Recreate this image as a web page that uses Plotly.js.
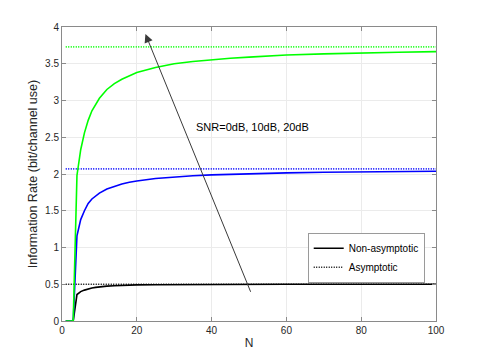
<!DOCTYPE html>
<html>
<head>
<meta charset="utf-8">
<script src="https://cdn.plot.ly/plotly-3.0.1.min.js"></script>
<style>
  html, body { margin: 0; padding: 0; background: #fff; }
  #myDiv { width: 482px; height: 361px; }
</style>
</head>
<body>
<div id="myDiv"></div>
<script>
// block length N
const nVals = [1, 2, 3, 4, 5, 6, 7, 8, 9, 10, 12, 14, 16, 18, 20, 25, 30, 35, 40, 45, 50, 60, 70, 80, 90, 100];

// non-asymptotic information rate
const rate0dB = [0, 0, 0, 0.36, 0.40, 0.42, 0.437, 0.449, 0.458, 0.465, 0.474, 0.48, 0.485, 0.488, 0.491, 0.494, 0.496, 0.497, 0.498, 0.498, 0.499, 0.499, 0.5, 0.5, 0.5, 0.5];
const rate10dB = [0, 0, 0, 1.16, 1.38, 1.50, 1.60, 1.66, 1.70, 1.74, 1.795, 1.835, 1.865, 1.887, 1.905, 1.938, 1.96, 1.976, 1.988, 1.997, 2.004, 2.015, 2.023, 2.029, 2.033, 2.037];
const rate20dB = [0, 0, 0, 1.98, 2.33, 2.56, 2.73, 2.86, 2.95, 3.03, 3.15, 3.23, 3.29, 3.34, 3.38, 3.45, 3.50, 3.53, 3.555, 3.575, 3.59, 3.62, 3.635, 3.65, 3.657, 3.665];

// asymptotic limits
const asym0dB = 0.5;
const asym10dB = 2.07;
const asym20dB = 3.73;

const xTicks = [0, 20, 40, 60, 80, 100];
const yTicks = [0, 0.5, 1, 1.5, 2, 2.5, 3, 3.5, 4];

const textColor = '#262626';
const axisColor = '#8a8a8a';
const dotted = '1px,1.5px';

const solid = (y, color, name, show) => ({
  x: nVals,
  y: y,
  mode: 'lines',
  type: 'scatter',
  line: { color: color, width: 1.6 },
  name: name,
  showlegend: show,
});

const asym = (v, color, name, show) => ({
  x: [nVals[0], nVals.at(-1)],
  y: [v, v],
  mode: 'lines',
  type: 'scatter',
  line: { color: color, width: 1.6, dash: dotted },
  name: name,
  showlegend: show,
});

const data = [
  solid(rate0dB, '#000000', 'Non-asymptotic', true),
  asym(asym0dB, '#000000', 'Asymptotic', true),
  solid(rate10dB, '#0000ff', '', false),
  asym(asym10dB, '#0000ff', '', false),
  solid(rate20dB, '#00ff00', '', false),
  asym(asym20dB, '#00ff00', '', false),
];

const axisBase = {
  showline: true,
  linecolor: axisColor,
  linewidth: 1,
  mirror: 'ticks',
  ticks: 'inside',
  ticklen: 4,
  tickcolor: axisColor,
  showgrid: true,
  gridcolor: '#ebebeb',
  gridwidth: 1,
  zeroline: false,
  fixedrange: true,
  tickfont: { size: 10, color: textColor },
};

const layout = {
  width: 482,
  height: 361,
  margin: { l: 62, r: 46, t: 27, b: 40 },
  paper_bgcolor: '#ffffff',
  plot_bgcolor: '#ffffff',
  font: { family: 'Liberation Sans, Arial, sans-serif', color: textColor },
  xaxis: {
    ...axisBase,
    range: [0, 100],
    tickvals: xTicks,
    ticktext: xTicks.map(String),
    title: { text: 'N', font: { size: 12, color: textColor }, standoff: 3 },
  },
  yaxis: {
    ...axisBase,
    range: [0, 4],
    tickvals: yTicks,
    ticktext: yTicks.map(String),
    title: { text: 'Information Rate (bit/channel use)', font: { size: 12.5, color: textColor }, standoff: 4 },
  },
  legend: {
    x: 0.657,
    y: 0.215,
    xanchor: 'left',
    yanchor: 'middle',
    bgcolor: '#ffffff',
    bordercolor: '#9a9a9a',
    borderwidth: 1,
    font: { size: 10, color: '#000000' },
    tracegroupgap: 0,
    itemwidth: 30,
  },
  annotations: [
    {
      x: 22.3,
      y: 3.905,
      ax: 50.6,
      ay: 0.377,
      xref: 'x',
      yref: 'y',
      axref: 'x',
      ayref: 'y',
      showarrow: true,
      arrowhead: 2,
      arrowsize: 1.7,
      arrowwidth: 1,
      arrowcolor: '#3a3a3a',
      text: '',
    },
    {
      x: 35.3,
      y: 2.64,
      xref: 'x',
      yref: 'y',
      xanchor: 'left',
      yanchor: 'middle',
      showarrow: false,
      text: 'SNR=0dB, 10dB, 20dB',
      font: { size: 11, color: '#000000' },
    },
  ],
};

Plotly.newPlot('myDiv', data, layout, { displayModeBar: false, staticPlot: true });
</script>
</body>
</html>
